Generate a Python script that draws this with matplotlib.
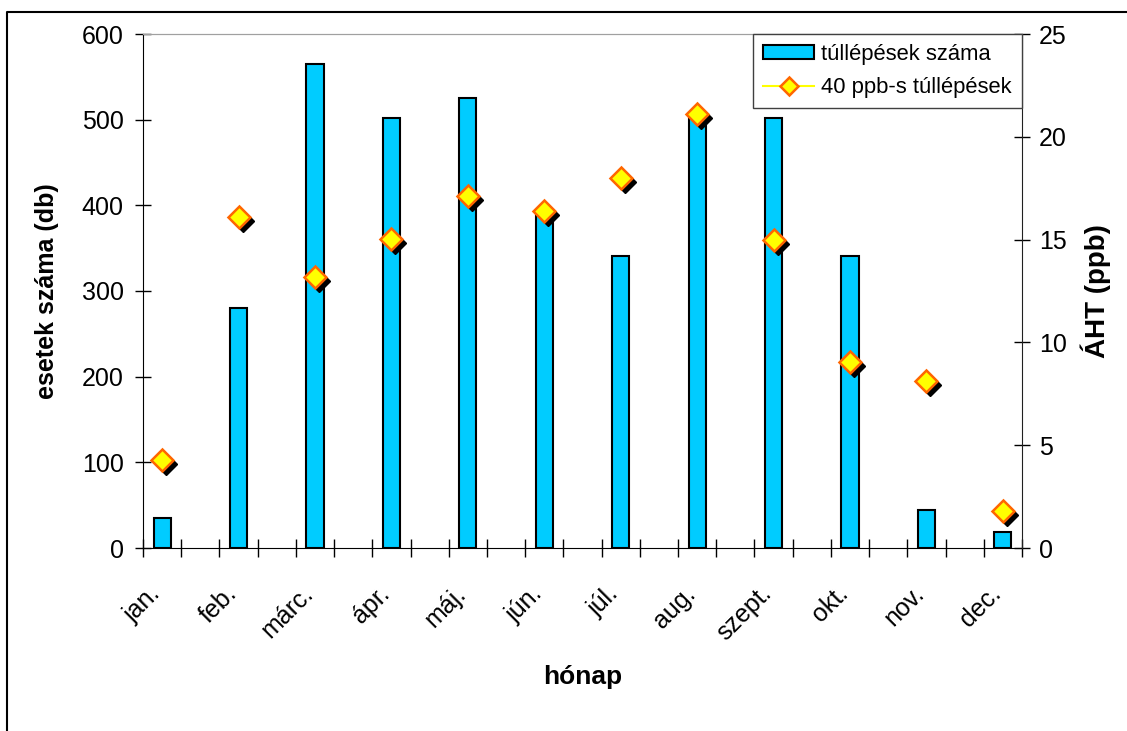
import numpy as np
import matplotlib
matplotlib.use("Agg")
import matplotlib.pyplot as plt
from matplotlib import transforms
from matplotlib.lines import Line2D

plt.rcParams['font.family'] = ['Liberation Sans', 'DejaVu Sans']

# havi adatok
honapok = ['jan.', 'feb.', 'márc.', 'ápr.', 'máj.', 'jún.',
           'júl.', 'aug.', 'szept.', 'okt.', 'nov.', 'dec.']
tullepesek = [35, 280, 565, 502, 525, 391, 341, 505, 502, 341, 44, 19]
aht_40ppb = [4.3, 16.1, 13.2, 15.05, 17.1, 16.4, 18.0, 21.1, 15.0, 9.05, 8.1, 1.8]

# minden honap utan egy ures kategoria van (23 kategoria)
pos = np.arange(len(honapok)) * 2

fig = plt.figure(figsize=(11.27, 7.31), dpi=100)
ax = fig.add_axes([143 / 1127, 1 - 548 / 731, (1022 - 143) / 1127, (548 - 34) / 731])
ax2 = ax.twinx()

bar_col = '#00CCFF'
ax.bar(pos, tullepesek, width=0.45, color=bar_col, edgecolor='black', linewidth=1.5, zorder=3)
ax.set_xlim(-0.5, 22.5)
ax.set_ylim(0, 600)
ax.set_yticks(np.arange(0, 601, 100))
ax.tick_params(axis='y', direction='inout', length=12, width=1, labelsize=18, pad=8)
ax.set_xticks(pos)
ax.set_xticklabels(honapok, rotation=45, ha='right', rotation_mode='anchor', fontsize=18)
ax.tick_params(axis='x', which='major', length=0, pad=24)
# feliratok kicsit balra tolva
shift = transforms.ScaledTranslation(-14 / 100, 0, fig.dpi_scale_trans)
for lab in ax.get_xticklabels():
    lab.set_transform(lab.get_transform() + shift)
ax.set_xticks(np.arange(-0.5, 23, 1), minor=True)
ax.tick_params(axis='x', which='minor', direction='inout', length=13, width=1)

ax.set_ylabel('esetek száma (db)', fontsize=18, fontweight='bold', labelpad=16)
ax.set_xlabel('hónap', fontsize=19, fontweight='bold', labelpad=14)

for s in ['left', 'bottom']:
    ax.spines[s].set_color('black')
ax.spines['top'].set_color('#a0a0a0')
ax.spines['right'].set_visible(False)
ax2.spines['top'].set_color('#a0a0a0')
ax2.spines['right'].set_color('#202020')
ax2.spines['left'].set_visible(False)
ax2.spines['bottom'].set_visible(False)

# arnyek a markerek mogott
shadow = transforms.offset_copy(ax2.transData, fig=fig, x=4, y=-4, units='dots')
ax2.plot(pos, aht_40ppb, linestyle='none', marker='D', markersize=11,
         markerfacecolor='black', markeredgecolor='black', transform=shadow, zorder=3)
ax2.plot(pos, aht_40ppb, linestyle='none', marker='D', markersize=11,
         markerfacecolor='#FFFF00', markeredgecolor='#FF6600', markeredgewidth=1.8, zorder=4)
ax2.set_ylim(0, 25)
ax2.set_yticks(np.arange(0, 26, 5))
ax2.tick_params(axis='y', direction='inout', length=12, width=1, labelsize=18, pad=6)
ax2.set_ylabel('ÁHT (ppb)', fontsize=20, fontweight='bold', labelpad=10)

h_bar = plt.Rectangle((0, 0), 1, 1, facecolor=bar_col, edgecolor='black', linewidth=1.5)
h_line = Line2D([], [], color='#FFFF00', linewidth=1.5, marker='D', markersize=9,
                markerfacecolor='#FFFF00', markeredgecolor='#FF6600', markeredgewidth=1.8)
leg = ax2.legend([h_bar, h_line], ['túllépések száma', '40 ppb-s túllépések'],
                 loc='upper right', bbox_to_anchor=(1, 1), borderaxespad=0,
                 fontsize=15.8, frameon=True, fancybox=False, framealpha=1,
                 handlelength=2.3, handleheight=0.6, borderpad=0.45, labelspacing=0.55,
                 handletextpad=0.35)
leg.get_frame().set_edgecolor('#404040')
leg.get_frame().set_linewidth(1)

# keret a diagram korul
fig.add_artist(Line2D([7 / 1127, 7 / 1127, 1.0], [0.0, 1 - 12 / 731, 1 - 12 / 731],
                      transform=fig.transFigure, color='black', linewidth=1.5))

fig.savefig('out.png', dpi=100)
